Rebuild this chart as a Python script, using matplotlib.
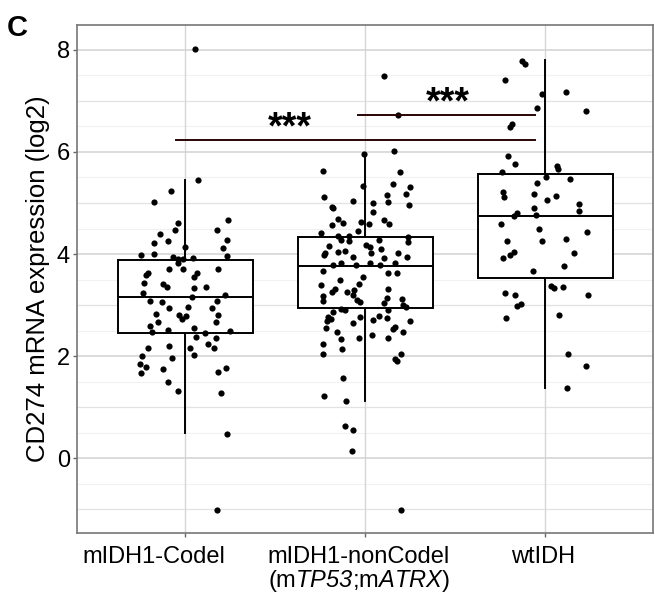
import numpy as np
import matplotlib
matplotlib.use("Agg")
import matplotlib.pyplot as plt
from matplotlib.transforms import ScaledTranslation

plt.rcParams['font.family'] = ['Liberation Sans', 'DejaVu Sans']
plt.rcParams['mathtext.fontset'] = 'custom'
plt.rcParams['mathtext.rm'] = 'Liberation Sans'
plt.rcParams['mathtext.it'] = 'Liberation Sans:italic'
plt.rcParams['mathtext.cal'] = 'Liberation Sans:italic'

# groups and tick labels
groups = ["mIDH1-Codel", "mIDH1-nonCodel", "wtIDH"]
tick_labels = ["mIDH1-Codel",
               "mIDH1-nonCodel\n(m$\\mathcal{TP53}$;m$\\mathcal{ATRX}$)",
               "wtIDH"]

# box statistics
q1 = [2.45, 2.94, 3.53]
med = [3.16, 3.77, 4.75]
q3 = [3.88, 4.33, 5.57]
whislo = [0.49, 1.12, 1.37]
whishi = [5.45, 5.98, 7.80]

# jittered points: horizontal offset from group centre, value
codel_dx = [0.072, -0.078, -0.172, -0.039, -0.056, -0.139, -0.094, -0.172, 0.0, 0.239,
            0.178, 0.233, 0.211, 0.233, -0.244, -0.172, -0.067, -0.039, 0.044, -0.011,
            -0.089, -0.039, -0.011, 0.067, 0.05, 0.183, -0.206, -0.217, -0.228, -0.122,
            -0.1, 0.05, 0.117, -0.233, 0.222, -0.194, -0.128, 0.039, 0.178, -0.089,
            0.017, 0.15, -0.161, -0.033, 0.006, -0.017, 0.183, -0.15, 0.172, -0.194,
            -0.183, -0.094, 0.05, 0.061, 0.111, 0.172, 0.25, -0.206, -0.089, 0.028,
            0.128, 0.161, -0.239, -0.072, 0.05, -0.25, -0.217, -0.244, -0.122, 0.183,
            0.228, -0.094, -0.039, 0.2, 0.233, 0.056, 0.178]
codel_y = [5.45, 5.24, 5.02, 4.61, 4.47, 4.39, 4.25, 4.22, 4.14, 4.67,
           4.47, 4.27, 4.12, 3.96, 3.98, 4.0, 3.94, 3.90, 3.92, 3.90,
           3.71, 3.82, 3.71, 3.63, 3.55, 3.71, 3.63, 3.59, 3.43, 3.41,
           3.35, 3.33, 3.35, 3.24, 3.20, 3.08, 3.06, 3.16, 3.08, 2.94,
           2.96, 2.94, 2.82, 2.80, 2.78, 2.73, 2.80, 2.67, 2.67, 2.59,
           2.47, 2.51, 2.55, 2.37, 2.45, 2.35, 2.49, 2.16, 2.20, 2.16,
           2.24, 2.16, 2.0, 1.96, 2.02, 1.84, 1.78, 1.67, 1.75, 1.69,
           1.76, 1.49, 1.31, 1.27, 0.47, 8.02, -1.02]

noncodel_dx = [0.106, 0.183, 0.161, -0.006, -0.233, 0.194, 0.156, -0.011, 0.25, 0.228,
               -0.228, 0.122, -0.067, -0.183, 0.044, 0.128, 0.244, 0.044, -0.178, -0.15,
               -0.122, -0.183, -0.022, 0.022, 0.106, 0.133, -0.039, -0.244, -0.15, -0.089,
               -0.133, -0.089, 0.239, 0.239, -0.2, 0.006, 0.028, 0.078, -0.222, -0.15,
               -0.111, 0.033, 0.089, 0.183, -0.067, -0.228, 0.106, 0.233, -0.178, -0.133,
               -0.05, 0.028, 0.083, 0.167, -0.233, 0.128, 0.178, -0.011, -0.139, -0.244,
               -0.033, -0.167, -0.183, -0.1, -0.061, 0.128, -0.233, -0.067, -0.233, -0.044,
               -0.028, 0.122, 0.106, 0.206, 0.211, 0.228, -0.178, -0.133, -0.111, 0.128,
               -0.206, -0.211, -0.189, -0.028, 0.044, 0.078, 0.122, 0.25, -0.067, -0.217,
               -0.156, 0.167, 0.156, 0.211, -0.033, 0.039, -0.133, 0.128, -0.233, -0.233,
               -0.128, 0.2, 0.167, 0.178, -0.122, -0.228, -0.106, -0.111, -0.067, -0.072,
               0.2]
noncodel_y = [7.49, 6.73, 6.02, 5.96, 5.63, 5.61, 5.37, 5.33, 5.31, 5.18,
              5.12, 5.16, 5.04, 4.92, 5.0, 5.02, 4.96, 4.82, 4.90, 4.69,
              4.61, 4.57, 4.63, 4.59, 4.67, 4.59, 4.45, 4.41, 4.35, 4.35,
              4.27, 4.25, 4.33, 4.24, 4.16, 4.18, 4.14, 4.27, 4.02, 4.04,
              4.06, 4.02, 4.10, 4.02, 3.94, 3.98, 3.92, 3.94, 3.78, 3.82,
              3.78, 3.82, 3.78, 3.82, 3.67, 3.63, 3.63, 3.55, 3.49, 3.39,
              3.41, 3.31, 3.25, 3.25, 3.29, 3.31, 3.18, 3.20, 3.08, 3.10,
              3.06, 3.14, 3.04, 3.12, 3.0, 2.96, 2.86, 2.92, 2.90, 2.90,
              2.76, 2.69, 2.73, 2.76, 2.71, 2.78, 2.75, 2.69, 2.65, 2.55,
              2.47, 2.57, 2.53, 2.47, 2.35, 2.41, 2.33, 2.35, 2.24, 2.04,
              2.14, 2.04, 1.94, 1.90, 1.57, 1.22, 1.12, 0.63, 0.55, 0.14,
              -1.02]

wt_dx = [-0.128, -0.111, -0.222, -0.017, 0.117, -0.044, 0.228, -0.183, -0.194, -0.206,
         -0.167, -0.239, 0.067, 0.072, 0.006, 0.139, -0.044, -0.233, -0.228, -0.061,
         0.061, 0.011, 0.189, 0.189, -0.061, -0.05, -0.156, -0.172, -0.244, -0.033,
         0.233, -0.211, -0.017, 0.117, 0.161, -0.172, -0.194, -0.233, 0.106, -0.067,
         0.033, 0.05, 0.1, -0.222, -0.167, 0.239, -0.133, -0.156, 0.078, -0.217,
         0.128, 0.228, 0.122]
wt_y = [7.78, 7.73, 7.41, 7.14, 7.18, 6.86, 6.80, 6.55, 6.49, 5.92,
        5.76, 5.61, 5.73, 5.67, 5.51, 5.47, 5.39, 5.22, 5.12, 5.18,
        5.14, 5.06, 4.98, 4.84, 4.90, 4.76, 4.80, 4.75, 4.59, 4.49,
        4.43, 4.25, 4.25, 4.29, 4.02, 4.04, 3.98, 3.92, 3.76, 3.67,
        3.37, 3.33, 3.35, 3.24, 3.20, 3.20, 3.02, 2.98, 2.80, 2.75,
        2.04, 1.80, 1.37]

# significance brackets: x start, x end, y, star label x
sig_x0 = [0.95, 1.96]
sig_x1 = [2.945, 2.945]
sig_y = [6.23, 6.72]
star_x = [1.583, 2.458]

fig = plt.figure(figsize=(6.55, 5.95), dpi=100)
ax = fig.add_axes([0.1176, 0.1042, 0.8794, 0.8538])

pos = np.arange(1, len(groups) + 1)

# grid
for v in np.arange(-1.0, 8.6, 0.5):
    if v % 2 == 0:
        col, lw = '#d2d2d2', 1.1
    elif v % 1 == 0:
        col, lw = '#e2e2e2', 0.9
    else:
        col, lw = '#f1f1f1', 0.8
    ax.axhline(v, color=col, lw=lw, zorder=0)
for p in pos:
    ax.axvline(p, color='#d6d6d6', lw=1.0, zorder=0)

stats = []
for i in range(len(groups)):
    stats.append(dict(med=med[i], q1=q1[i], q3=q3[i], whislo=whislo[i],
                      whishi=whishi[i], fliers=[]))
ax.bxp(stats, positions=pos, widths=0.75, showcaps=False, showfliers=False,
       patch_artist=True,
       boxprops=dict(facecolor='white', edgecolor='black', linewidth=1.4),
       medianprops=dict(color='black', linewidth=1.4),
       whiskerprops=dict(color='black', linewidth=1.4), zorder=2)

for p, dx, y in zip(pos, [codel_dx, noncodel_dx, wt_dx], [codel_y, noncodel_y, wt_y]):
    ax.scatter(p + np.array(dx), y, s=20, color='black', linewidths=0, zorder=3)

for x0, x1, y, sx in zip(sig_x0, sig_x1, sig_y, star_x):
    ax.plot([x0, x1], [y, y], color='#2a0404', lw=1.4, zorder=4)
    ax.text(sx, y + 0.03, '***', ha='center', va='baseline', fontsize=27,
            fontweight='bold', zorder=4)

ax.set_xlim(0.4, 3.6)
ax.set_ylim(-1.47, 8.49)
ax.set_xticks(pos)
ax.set_xticklabels(tick_labels, fontsize=17, linespacing=1.0)
ax.set_yticks([0, 2, 4, 6, 8])
ax.set_yticklabels(['0', '2', '4', '6', '8'], fontsize=17)
ax.tick_params(axis='both', length=3, color='#666666', width=1)
ax.tick_params(axis='y', pad=2)
ax.tick_params(axis='x', pad=6)
ax.set_ylabel('CD274 mRNA expression (log2)', fontsize=18.5, labelpad=5)
for sp in ax.spines.values():
    sp.set_color('#777777')
    sp.set_linewidth(1.2)

# the labels sit a little left of their ticks in the original
shifts = [-31, -6, -2]
for lab, sh in zip(ax.get_xticklabels(), shifts):
    lab.set_transform(lab.get_transform() + ScaledTranslation(sh / 100, 0, fig.dpi_scale_trans))

fig.text(0.011, 0.977, 'C', fontsize=21, fontweight='bold', va='top', ha='left')

fig.savefig('out.png', dpi=100)
